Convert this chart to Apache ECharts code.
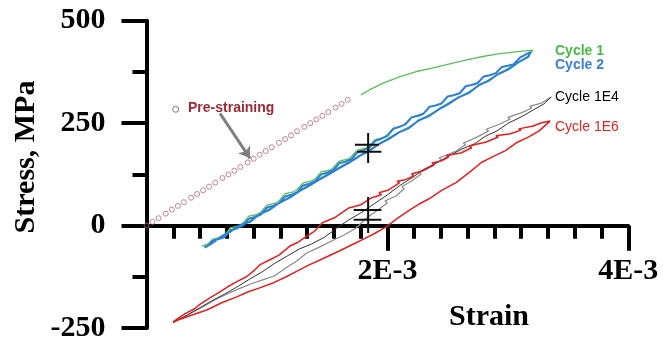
<!DOCTYPE html>
<html><head><meta charset="utf-8">
<script src="https://cdn.jsdelivr.net/npm/echarts@6/dist/echarts.min.js"></script>
<style>html,body{margin:0;padding:0;background:#fff}#c{width:663px;height:346px}</style>
</head><body><div id="c"></div>
<script>
// Strain values are in units of 1E-3, stress in MPa
const xTickLabels = {0: '', 2: '2E-3', 4: '4E-3'};
const yTicks = [-250, 0, 250, 500];

const preStrain = [0, 0.05, 0.10, 0.16, 0.21, 0.26, 0.31, 0.37, 0.42, 0.47, 0.52, 0.57, 0.63, 0.68, 0.73, 0.78, 0.84, 0.89, 0.94, 0.99, 1.04, 1.10, 1.15, 1.20, 1.25, 1.31, 1.36, 1.41, 1.46, 1.51, 1.57, 1.62, 1.67];
const preStress = [0, 9, 18, 29, 39, 48, 57, 68, 77, 86, 95, 105, 116, 125, 134, 143, 154, 163, 173, 182, 191, 202, 211, 220, 230, 241, 250, 259, 268, 277, 288, 297, 307];
const arrowFrom = [0.61, 274];
const arrowTo = [0.86, 164];

const cycle1Load = [[1.78,319],[1.85,331],[1.96,347],[2.10,363],[2.24,376],[2.37,384],[2.51,394],[2.65,404],[2.78,412],[2.92,419],[3.06,424],[3.21,428]];
const cycle1Unload = [[3.17,414],[3.01,385],[2.84,356],[2.68,327],[2.51,300],[2.35,271],[2.18,241],[2.01,214],[1.85,185],[1.68,156],[1.52,129],[1.35,100],[1.19,71],[1.02,41],[0.86,12],[0.69,-13],[0.53,-43],[0.46,-50]];
const cycle1Reload = [[0.50,-48],[0.55,-33],[0.62,-28],[0.65,-22],[0.70,-5],[0.77,-1],[0.80,6],[0.85,23],[0.92,27],[0.95,33],[1.00,50],[1.07,55],[1.10,60],[1.15,78],[1.22,82],[1.25,88],[1.30,104],[1.37,109],[1.40,114],[1.45,131],[1.52,135],[1.55,141],[1.60,157],[1.67,162],[1.70,168],[1.75,184],[1.82,189],[1.85,195],[1.90,210],[1.97,215],[2.00,222],[2.05,238],[2.12,243],[2.15,249],[2.20,264],[2.27,268],[2.30,274]];

const cycle2Load = [[0.50,-52],[0.55,-37],[0.60,-33],[0.65,-28],[0.70,-11],[0.75,-7],[0.80,0],[0.85,17],[0.90,21],[0.95,27],[1.00,44],[1.05,48],[1.10,54],[1.15,71],[1.20,75],[1.25,81],[1.30,98],[1.35,102],[1.40,108],[1.45,125],[1.50,129],[1.55,135],[1.60,152],[1.65,156],[1.70,162],[1.75,179],[1.80,184],[1.85,190],[1.90,207],[1.95,212],[2.00,219],[2.05,236],[2.10,241],[2.15,247],[2.20,264],[2.25,268],[2.30,273],[2.35,290],[2.40,293],[2.45,298],[2.50,315],[2.55,318],[2.60,323],[2.65,340],[2.70,343],[2.75,348],[2.80,364],[2.85,367],[2.90,372],[2.95,387],[3.00,390],[3.05,394],[3.10,410],[3.15,418],[3.19,424]];
const cycle2Unload = [[3.17,412],[3.09,399],[3.01,382],[2.92,370],[2.84,353],[2.76,343],[2.68,324],[2.59,313],[2.51,297],[2.43,284],[2.35,268],[2.26,257],[2.18,238],[2.10,228],[2.01,211],[1.93,199],[1.85,182],[1.77,170],[1.68,153],[1.60,140],[1.52,126],[1.44,113],[1.35,97],[1.27,84],[1.19,68],[1.10,55],[1.02,38],[0.94,28],[0.86,9],[0.77,0],[0.69,-16],[0.61,-29],[0.53,-46],[0.48,-54]];

const cycle1E4Load = [[0.22,-237],[0.36,-215],[0.47,-198],[0.57,-181],[0.67,-167],[0.77,-154],[0.87,-142],[0.97,-132],[1.06,-123],[1.16,-103],[1.25,-86],[1.33,-67],[1.44,-52],[1.54,-37],[1.64,-23],[1.74,-6],[1.83,19],[1.92,38],[2.00,55],[1.98,60],[2.07,72],[2.14,90],[2.12,95],[2.20,109],[2.28,126],[2.26,131],[2.36,146],[2.45,160],[2.43,165],[2.57,182],[2.65,197],[2.63,201],[2.73,214],[2.84,231],[2.82,235],[2.92,246],[3.02,260],[3.00,264],[3.11,275],[3.20,287],[3.18,291],[3.28,299],[3.34,310],[3.36,314]];
const cycle1E4Unload = [[3.36,314],[3.30,297],[3.21,282],[3.11,265],[3.01,251],[2.91,231],[2.82,219],[2.72,199],[2.62,187],[2.51,170],[2.41,153],[2.30,136],[2.20,116],[2.10,97],[2.00,75],[1.89,53],[1.78,31],[1.68,14],[1.58,-6],[1.48,-28],[1.37,-45],[1.27,-57],[1.17,-74],[1.06,-93],[0.96,-113],[0.86,-130],[0.75,-150],[0.65,-167],[0.54,-184],[0.44,-201],[0.34,-218],[0.22,-237]];

const cycle1E6Load = [[0.22,-235],[0.32,-215],[0.40,-203],[0.44,-193],[0.53,-176],[0.61,-162],[0.67,-150],[0.75,-137],[0.83,-125],[0.90,-108],[0.94,-96],[1.02,-84],[1.10,-72],[1.19,-50],[1.25,-42],[1.31,-30],[1.39,-15],[1.46,7],[1.56,19],[1.68,43],[1.78,51],[1.87,68],[1.95,75],[1.93,80],[2.01,87],[2.10,104],[2.08,108],[2.15,112],[2.22,121],[2.20,126],[2.29,133],[2.39,148],[2.37,153],[2.45,158],[2.51,168],[2.49,171],[2.61,177],[2.70,190],[2.68,194],[2.82,204],[2.92,216],[2.90,219],[3.02,224],[3.11,233],[3.09,236],[3.21,243],[3.28,251],[3.35,255]];
const cycle1E6Unload = [[3.35,251],[3.26,231],[3.17,216],[3.07,202],[2.98,183],[2.88,169],[2.78,154],[2.68,130],[2.57,105],[2.45,86],[2.35,66],[2.26,52],[2.18,37],[2.08,17],[1.99,-3],[1.89,-20],[1.81,-32],[1.74,-42],[1.60,-62],[1.44,-84],[1.35,-96],[1.25,-111],[1.16,-125],[1.05,-140],[0.94,-152],[0.84,-162],[0.75,-174],[0.62,-189],[0.50,-206],[0.36,-220],[0.22,-235]];

// error crosses: horizontal [xFrom, xTo, y], vertical [x, yFrom, yTo]
const crossH = [[1.73,1.93,197],[1.75,1.95,180],[1.72,1.95,38],[1.72,1.95,14]];
const crossV = [[1.84,153,226],[1.84,-18,70]];

const seriesLabels = ['Cycle 1','Cycle 2','Cycle 1E4','Cycle 1E6'];
const preLabel = 'Pre-straining';

const chart = echarts.init(document.getElementById('c'));
const segSeries = [];
crossH.forEach(h => segSeries.push({type:'line', data:[[h[0],h[2]],[h[1],h[2]]], symbol:'none', lineStyle:{color:'#111', width:2}, z:6, silent:true}));
crossV.forEach(v => segSeries.push({type:'line', data:[[v[0],v[1]],[v[0],v[2]]], symbol:'none', lineStyle:{color:'#111', width:2}, z:6, silent:true}));

const serif = '"Liberation Serif","Times New Roman",serif';
const sans = '"Liberation Sans",Arial,sans-serif';

chart.setOption({
  animation: false,
  grid: {left: 146.5, top: 20.7, width: 481.8, height: 307.3, containLabel: false, outerBoundsMode: 'none'},
  xAxis: {
    type: 'value', min: 0, max: 4, interval: 2, position: 'bottom', offset: -102.3,
    axisLine: {onZero: false, lineStyle: {color: '#000', width: 4}},
    axisTick: {length: 25, lineStyle: {width: 4, color: '#000'}},
    minorTick: {show: true, splitNumber: 9, length: 13, lineStyle: {width: 4, color: '#000'}},
    splitLine: {show: false},
    axisLabel: {margin: 31, color: '#000', fontFamily: serif, fontWeight: 'bold', fontSize: 30,
      formatter: v => xTickLabels[v] !== undefined ? xTickLabels[v] : ''}
  },
  yAxis: {
    type: 'value', min: -250, max: 500, interval: 250,
    axisLine: {onZero: false, lineStyle: {color: '#000', width: 4}},
    axisTick: {length: 25, lineStyle: {width: 4, color: '#000'}},
    minorTick: {show: true, splitNumber: 2, length: 14, lineStyle: {width: 4, color: '#000'}},
    splitLine: {show: false},
    axisLabel: {margin: 41, color: '#000', fontFamily: serif, fontWeight: 'bold', fontSize: 30,
      formatter: v => yTicks.indexOf(v) >= 0 ? String(v) : ''}
  },
  graphic: [
    {type:'text', x: 489, y: 317, style:{text:'Strain', font:'bold 30px ' + serif, fill:'#000', align:'center', verticalAlign:'middle'}},
    {type:'text', x: 26, y: 157, rotation: Math.PI/2, style:{text:'Stress, MPa', font:'bold 30px ' + serif, fill:'#000', align:'center', verticalAlign:'middle'}},
    {type:'circle', shape:{cx:175.7, cy:109.3, r:3}, style:{fill:'none', stroke:'#8a6f70', lineWidth:1}},
    {type:'text', x: 188, y: 108.5, style:{text: preLabel, font:'bold 14px ' + sans, fill:'#9b2a35', align:'left', verticalAlign:'middle'}},
    {type:'text', x: 555, y: 51, style:{text: seriesLabels[0], font:'bold 14px ' + sans, fill:'#45bb45', align:'left', verticalAlign:'middle'}},
    {type:'text', x: 555, y: 65.5, style:{text: seriesLabels[1], font:'bold 14px ' + sans, fill:'#3a7fd0', align:'left', verticalAlign:'middle'}},
    {type:'text', x: 555, y: 97, style:{text: seriesLabels[2], font:'14px ' + sans, fill:'#000', align:'left', verticalAlign:'middle'}},
    {type:'text', x: 555, y: 127, style:{text: seriesLabels[3], font:'14px ' + sans, fill:'#e02525', align:'left', verticalAlign:'middle'}}
  ],
  series: [
    {type:'scatter', name: preLabel, data: preStrain.map((s,i)=>[s, preStress[i]]), symbol:'circle', symbolSize:5,
      itemStyle:{color:'rgba(255,255,255,0)', borderColor:'#b06a7a', borderWidth:1}, z:3,
      markLine:{silent:true, symbol:['none','arrow'], symbolSize:11, label:{show:false},
        lineStyle:{color:'#808080', width:3, type:'solid'},
        data:[[{coord: arrowFrom},{coord: arrowTo}]]}},
    {type:'line', name: seriesLabels[0], data: cycle1Load.concat(cycle1Unload, cycle1Reload), symbol:'none',
      lineStyle:{color:'#5cbf5c', width:1.3}, z:2},
    {type:'line', name: seriesLabels[1], data: cycle2Load.concat(cycle2Unload), symbol:'none',
      lineStyle:{color:'#2d7fd6', width:2}, z:3},
    {type:'line', name: seriesLabels[2], data: cycle1E4Load, symbol:'none',
      lineStyle:{color:'#8a8a8a', width:1.2}, z:2},
    {type:'line', name: seriesLabels[2], data: cycle1E4Unload, symbol:'none',
      lineStyle:{color:'#333', width:1}, z:2},
    {type:'line', name: seriesLabels[3], data: cycle1E6Load.concat(cycle1E6Unload), symbol:'none',
      lineStyle:{color:'#e02020', width:1.5}, z:3}
  ].concat(segSeries)
});
</script>
</body></html>
